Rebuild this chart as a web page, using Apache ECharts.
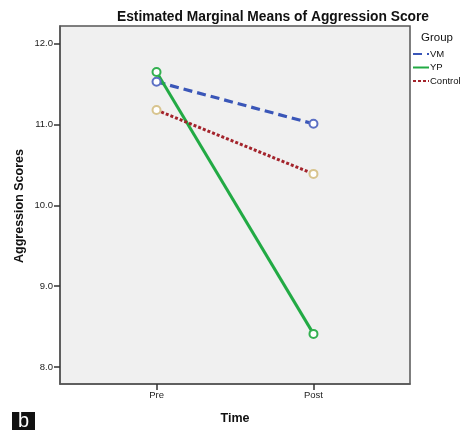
<!DOCTYPE html>
<html><head><meta charset="utf-8">
<script src="https://cdn.jsdelivr.net/npm/echarts@6/dist/echarts.min.js"></script>
<style>html,body{margin:0;padding:0;background:#fff}#c{width:460px;height:430px}</style>
</head><body><div id="c"></div>
<script>
const categories = ['Pre', 'Post'];
const groups = ['VM', 'YP', 'Control'];
const vm = [11.53, 11.01];
const yp = [11.65, 8.41];
const control = [11.18, 10.39];
const yTicks = [8, 9, 10, 11, 12];

const FONT = '"Liberation Sans", Arial, sans-serif';
const toPts = arr => arr.map((v, i) => [i, v]);

const chart = echarts.init(document.getElementById('c'), null, {renderer: 'canvas'});
chart.setOption({
  animation: false,
  backgroundColor: '#fff',
  grid: {left: 60, right: 50, top: 26, bottom: 45, show: true,
    backgroundColor: '#f0f0f0', borderColor: '#555', borderWidth: 1.5},
  legend: {
    orient: 'vertical', left: 412, top: 49, padding: 0, itemWidth: 16, itemHeight: 10, itemGap: 3.5,
    data: groups,
    itemStyle: {opacity: 0},
    textStyle: {fontFamily: FONT, fontSize: 9.5, color: '#111', overflow: 'none', padding: [0, 0, 0, -4]}
  },
  graphic: [
    {type: 'text', x: 273, y: 10, style: {text: 'Estimated Marginal Means of Aggression Score', fontFamily: FONT, fontSize: 13.8, fontWeight: 'bold', fill: '#111', align: 'center', verticalAlign: 'top'}},
    {type: 'text', x: 20, y: 206, rotation: Math.PI / 2, style: {text: 'Aggression Scores', fontFamily: FONT, fontSize: 12.5, fontWeight: 'bold', fill: '#111', align: 'center', verticalAlign: 'middle'}},
    {type: 'text', left: 421, top: 32, style: {text: 'Group', fontFamily: FONT, fontSize: 11.5, fill: '#111'}},
    {type: 'rect', shape: {x: 12, y: 412, width: 23, height: 18}, style: {fill: '#111'}},
    {type: 'text', x: 23.5, y: 421, style: {text: 'b', fontFamily: FONT, fontSize: 20, fill: '#fff', align: 'center', verticalAlign: 'middle'}}
  ],
  xAxis: {
    type: 'value', min: -0.615, max: 1.615,
    name: 'Time', nameLocation: 'middle', nameGap: 28,
    nameTextStyle: {fontFamily: FONT, fontSize: 12.5, fontWeight: 'bold', color: '#111'},
    axisLine: {onZero: false, lineStyle: {color: '#555', width: 1.5}},
    axisTick: {show: true, length: 6, customValues: [0, 1], lineStyle: {color: '#333', width: 1.5}},
    axisLabel: {customValues: [0, 1], formatter: v => categories[Math.round(v)] || '',
      fontFamily: FONT, fontSize: 9.5, color: '#222', margin: 6},
    splitLine: {show: false}
  },
  yAxis: {
    type: 'value', min: 7.79, max: 12.22,
    axisLine: {show: true, onZero: false, lineStyle: {color: '#555', width: 1.5}},
    axisTick: {show: true, length: 6, customValues: yTicks, lineStyle: {color: '#333', width: 1.5}},
    axisLabel: {customValues: yTicks, formatter: v => v.toFixed(1),
      fontFamily: FONT, fontSize: 9.5, color: '#222', margin: 7},
    splitLine: {show: false}
  },
  series: [
    {name: 'VM', type: 'line', data: toPts(vm), symbol: 'emptyCircle', symbolSize: 8,
      color: '#3a56b8',
      lineStyle: {color: '#3a56b8', width: 3.2, type: [9, 5]},
      itemStyle: {color: '#5b6fc4', borderColor: '#5b6fc4', borderWidth: 1.2}},
    {name: 'YP', type: 'line', data: toPts(yp), symbol: 'emptyCircle', symbolSize: 8,
      color: '#22aa44',
      lineStyle: {color: '#22aa44', width: 3},
      itemStyle: {color: '#33b050', borderColor: '#33b050', borderWidth: 1.2}},
    {name: 'Control', type: 'line', data: toPts(control), symbol: 'emptyCircle', symbolSize: 8,
      color: '#a3232b',
      lineStyle: {color: '#a3232b', width: 3, type: [3, 2]},
      itemStyle: {color: '#d8c48e', borderColor: '#d8c48e', borderWidth: 1.2}}
  ]
});
</script></body></html>
